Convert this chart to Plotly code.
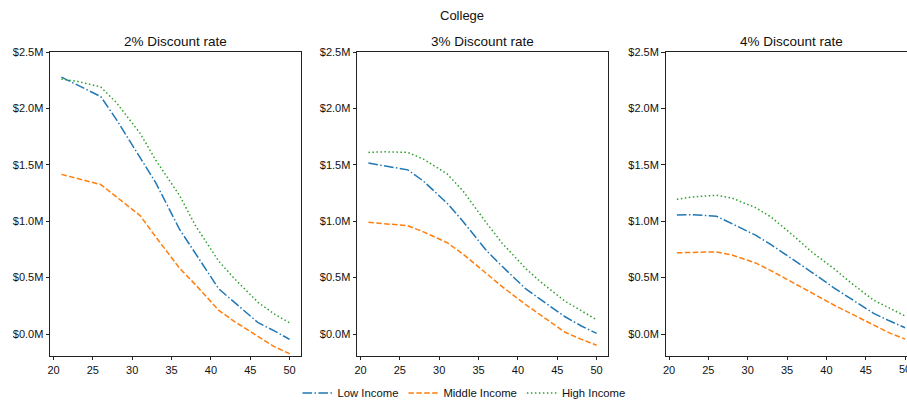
import plotly.graph_objects as go

# Age at which the degree is completed
ages = [21, 23, 26, 28, 31, 33, 36, 38, 41, 43, 46, 48, 50]

# Net present value of college (millions of dollars), by discount rate
low_2 = [2.277, 2.21, 2.105, 1.90, 1.56, 1.34, 0.93, 0.72, 0.40, 0.28, 0.10, 0.03, -0.047]
mid_2 = [1.415, 1.38, 1.325, 1.215, 1.05, 0.86, 0.585, 0.44, 0.21, 0.11, -0.026, -0.11, -0.175]
high_2 = [2.26, 2.24, 2.19, 2.05, 1.78, 1.54, 1.23, 0.965, 0.645, 0.49, 0.28, 0.18, 0.10]

low_3 = [1.515, 1.49, 1.455, 1.355, 1.16, 1.00, 0.74, 0.60, 0.40, 0.30, 0.153, 0.073, 0.005]
mid_3 = [0.99, 0.98, 0.96, 0.905, 0.81, 0.71, 0.54, 0.42, 0.26, 0.16, 0.015, -0.045, -0.10]
high_3 = [1.61, 1.615, 1.61, 1.55, 1.42, 1.27, 0.985, 0.805, 0.58, 0.455, 0.29, 0.205, 0.127]

low_4 = [1.055, 1.057, 1.045, 0.98, 0.876, 0.79, 0.652, 0.554, 0.407, 0.32, 0.183, 0.117, 0.055]
mid_4 = [0.72, 0.725, 0.728, 0.70, 0.63, 0.56, 0.45, 0.37, 0.255, 0.185, 0.08, 0.01, -0.045]
high_4 = [1.195, 1.215, 1.23, 1.205, 1.12, 1.035, 0.86, 0.735, 0.577, 0.46, 0.30, 0.23, 0.16]

panel_titles = ["2% Discount rate", "3% Discount rate", "4% Discount rate"]
series_names = ["Low Income", "Middle Income", "High Income"]
y_ticks = [0.0, 0.5, 1.0, 1.5, 2.0, 2.5]
y_tick_labels = [f"${v:.1f}M" for v in y_ticks]
x_ticks = [20, 25, 30, 35, 40, 45, 50]

panels = [(low_2, mid_2, high_2), (low_3, mid_3, high_3), (low_4, mid_4, high_4)]

colors = ["#1f77b4", "#ff7f0e", "#2ca02c"]
dashes = ["9.6px,2.4px,1.5px,2.4px", "5.5px,2.4px", "1.5px,2.5px"]

FONT = "Liberation Sans, Arial, sans-serif"
TEXT = "#111"
W, H = 907, 402
ML, MT, MB, MR = 50, 52, 46, 0
plot_w = W - ML - MR
plot_h = H - MT - MB

# Panel extents in pixels (left, right) across the figure
px_bounds = [(50, 301), (357, 608), (665.5, 907)]
domains = [((a - ML) / plot_w, (b - ML) / plot_w) for a, b in px_bounds]
x_lo, x_hi = 19.55, 51.45
px_per_unit = (px_bounds[0][1] - px_bounds[0][0]) / (x_hi - x_lo)
x_ranges = [[x_lo, x_lo + (b - a) / px_per_unit] for a, b in px_bounds]

fig = go.Figure()

for i, series in enumerate(panels):
    xa = "x" if i == 0 else f"x{i + 1}"
    ya = "y" if i == 0 else f"y{i + 1}"
    for j, vals in enumerate(series):
        fig.add_trace(go.Scatter(
            x=ages, y=vals, mode="lines",
            name=series_names[j], legendgroup=series_names[j],
            showlegend=(i == 0),
            line=dict(color=colors[j], width=1.5, dash=dashes[j]),
            xaxis=xa, yaxis=ya, hoverinfo="skip",
        ))

axis_common = dict(
    showline=True, linecolor="#222", linewidth=0.8, mirror=True,
    ticks="outside", ticklen=3.5, tickwidth=0.8, tickcolor="#222",
    showgrid=False, zeroline=False,
    tickfont=dict(family=FONT, size=11, color=TEXT),
)

layout = dict(
    width=W, height=H,
    margin=dict(l=ML, r=MR, t=MT, b=MB, pad=0, autoexpand=False),
    paper_bgcolor="white", plot_bgcolor="white",
    font=dict(family=FONT, color=TEXT),
    legend=dict(
        orientation="h", x=(464 - ML) / plot_w, xanchor="center",
        yref="container", y=(H - 393) / H, yanchor="middle",
        font=dict(family=FONT, size=11.3, color=TEXT),
        itemwidth=30, tracegroupgap=0,
    ),
    showlegend=True,
)

annotations = []
for i in range(3):
    xkey = "xaxis" if i == 0 else f"xaxis{i + 1}"
    ykey = "yaxis" if i == 0 else f"yaxis{i + 1}"
    xa = "x" if i == 0 else f"x{i + 1}"
    ya = "y" if i == 0 else f"y{i + 1}"
    layout[xkey] = dict(axis_common, domain=list(domains[i]), range=x_ranges[i],
                        tickvals=x_ticks, anchor=ya)
    layout[ykey] = dict(axis_common, domain=[0, 1], range=[-0.195, 2.5],
                        tickvals=y_ticks, ticktext=y_tick_labels, anchor=xa)
    cx = domains[i][0] + (251 / plot_w) / 2
    annotations.append(dict(
        text=panel_titles[i], x=cx, y=1 + (MT - 41) / plot_h,
        xref="paper", yref="paper", xanchor="center", yanchor="middle",
        showarrow=False, font=dict(family=FONT, size=13.5, color=TEXT),
    ))

# The last tick label of the right-hand panel runs off the page edge
annotations.append(dict(
    text=str(x_ticks[-1]), x=x_ticks[-1], xref="x3", y=0, yref="paper",
    xanchor="center", yanchor="top", yshift=-5, showarrow=False,
    font=dict(family=FONT, size=11, color=TEXT),
))

annotations.append(dict(
    text="College", x=(462 - ML) / plot_w, y=1 + (MT - 15) / plot_h,
    xref="paper", yref="paper", xanchor="center", yanchor="middle",
    showarrow=False, font=dict(family=FONT, size=13, color=TEXT),
))
layout["annotations"] = annotations

fig.update_layout(**layout)
fig.write_html("out.html")
